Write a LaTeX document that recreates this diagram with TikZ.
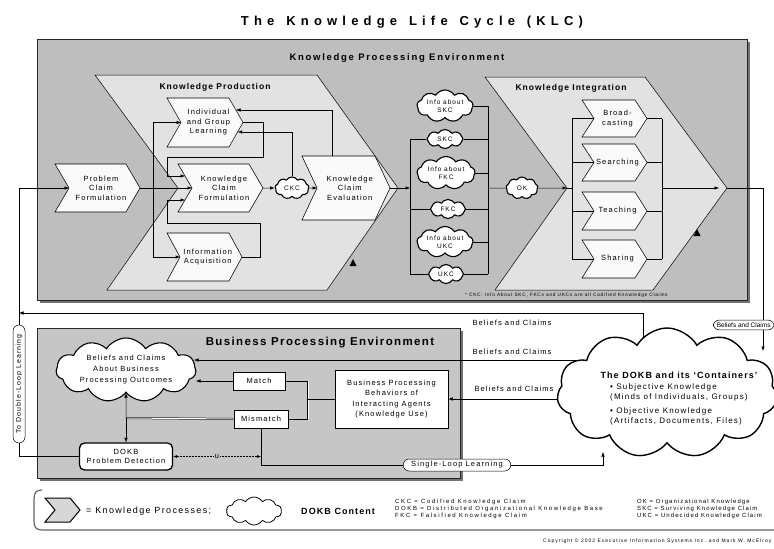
\documentclass[tikz,border=0pt]{standalone}
\usepackage{fontspec}
\setmainfont{Liberation Sans}
\newfontfamily\spacedfont[LetterSpace=15]{Liberation Sans}
\newfontfamily\headfont[LetterSpace=12]{Liberation Sans}
\newfontfamily\envfont[LetterSpace=18]{Liberation Sans}
\newfontfamily\widefont[LetterSpace=27]{Liberation Sans}
\newfontfamily\deffont[LetterSpace=18]{Liberation Sans}
\newfontfamily\smallwidefont[LetterSpace=20]{Liberation Sans}
\newfontfamily\titlefont[LetterSpace=40]{Liberation Sans}
\usetikzlibrary{shapes.symbols,arrows.meta}

\definecolor{envgray}{RGB}{190,190,190}
\definecolor{bpegray}{RGB}{198,198,198}
\definecolor{procgray}{RGB}{226,226,226}
\definecolor{chevfill}{RGB}{250,250,250}
\definecolor{shadowgray}{RGB}{115,115,115}
\definecolor{legendgray}{RGB}{215,215,215}

\tikzset{
  envbox/.style={draw=black!85, line width=0.9pt, fill=envgray},
  bpebox/.style={draw=black!85, line width=0.9pt, fill=bpegray},
  shadowbox/.style={fill=shadowgray, draw=none},
  bigproc/.style={draw=black, line width=0.5pt, fill=procgray},
  proc/.style={draw=black, line width=0.55pt, fill=chevfill},
  proctext/.style={font=\spacedfont\fontsize{7.5}{9.5}\selectfont, align=center, inner sep=0pt},
  headtext/.style={font=\headfont\bfseries\fontsize{8.5}{10}\selectfont, inner sep=0pt},
  kcloud/.style={cloud, cloud puffs=9, cloud puff arc=115, cloud ignores aspect,
    draw=black, line width=1.1pt, fill=white, inner sep=0pt, align=center,
    font=\spacedfont\fontsize{6.5}{7.5}\selectfont},
  flow/.style={draw=black, line width=0.5pt},
  arr/.style={flow, -{Latex[length=4.5pt,width=3.5pt]}},
  plainbox/.style={draw=black, line width=0.6pt, fill=white, align=center, inner sep=1pt,
    font=\spacedfont\fontsize{7.5}{10.5}\selectfont},
  pill/.style={draw=black, line width=0.5pt, fill=white, rounded corners=6pt,
    inner xsep=8pt, inner ysep=2.5pt, font=\spacedfont\fontsize{7.5}{9}\selectfont},
  lbl/.style={font=\spacedfont\fontsize{7.5}{9}\selectfont, inner sep=0pt},
  deftext/.style={font=\widefont\fontsize{6}{7}\selectfont, align=left, inner sep=0pt},
  legendproc/.style={draw=black, line width=1pt, fill=legendgray},
}

% chevron process: name, x1, y1, x2, y2, notch depth, label
\newcommand\chevronbox[7]{%
  \path[proc] (#2,#3) -- ({#4-#6},#3) -- (#4,{(#3+#5)/2}) -- ({#4-#6},#5)
    -- (#2,#5) -- ({#2+#6},{(#3+#5)/2}) -- cycle;
  \coordinate (#1-tip) at (#4,{(#3+#5)/2});
  \coordinate (#1-notch) at ({#2+#6},{(#3+#5)/2});
  \node[proctext] (#1) at ({(#2+#4)/2+#6/4},{(#3+#5)/2}) {#7};
}

\begin{document}
\begin{tikzpicture}[x=1pt,y=-1pt]
\useasboundingbox[fill=white] (0,0) rectangle (774,549);

% ---------- title ----------
\node[font=\titlefont\bfseries\fontsize{13}{15}\selectfont, inner sep=0pt] (title) at (412,22)
  {The\hspace{3pt} Knowledge\hspace{3pt} Life\hspace{3pt} Cycle\hspace{3pt} (KLC)};

% ---------- knowledge processing environment ----------
\fill[shadowbox] (40,42) rectangle (750,303);
\path[envbox] (37,39) rectangle (747,300);
\node[font=\envfont\bfseries\fontsize{9.5}{11}\selectfont, inner sep=0pt] (kpe) at (397,58)
  {Knowledge Processing Environment};

% knowledge production
\path[bigproc] (95,75) -- (317,75) -- (398,188) -- (327,290) -- (107,290) -- (178,188) -- cycle;
\node[headtext] (kplabel) at (215,87) {Knowledge Production};

% knowledge integration
\path[bigproc] (485,77) -- (645,77) -- (727,188) -- (653,290) -- (495,290) -- (567,188) -- cycle;
\coordinate (ki-tip) at (727,188);
\coordinate (ki-notch) at (567,188);
\node[headtext] (kilabel) at (571,88) {Knowledge Integration};

% flow markers on the outer process edges
\fill (353,259) -- (349.5,266) -- (356.5,266) -- cycle;
\fill (697,229) -- (693.5,236) -- (700.5,236) -- cycle;

\chevronbox{pcf}{55}{164}{140}{212}{14}{Problem\\Claim\\Formulation}
\chevronbox{igl}{167}{98}{243}{147}{14}{Individual\\and Group\\Learning}
\chevronbox{kcf}{178}{164}{263}{212}{14}{Knowledge\\Claim\\Formulation}
\chevronbox{ia}{167}{233}{242}{281}{13}{Information\\Acquisition}
\chevronbox{kce}{302}{156}{390}{220}{15}{Knowledge\\Claim\\Evaluation}
\chevronbox{bc}{582}{100}{647}{137}{12}{Broad-\\casting}
\chevronbox{se}{582}{144}{647}{181}{12}{Searching}
\chevronbox{te}{582}{192}{647}{230}{12}{Teaching}
\chevronbox{sh}{582}{240}{647}{278}{12}{Sharing}

% production flows
\coordinate (dl-top) at (19,188);
\coordinate (dl-mid) at (19,313);
\coordinate (dl-bot) at (19,456.5);
\coordinate (dist-top) at (153,122.5);
\coordinate (dist-bot) at (153,257);
\coordinate (kcf-in1) at (185,176);
\coordinate (kcf-in2) at (185,200);
\coordinate (igl-in1) at (236,110);
\coordinate (igl-in2) at (237.6,132);
\coordinate (kce-top) at (332,156);

\draw[arr] (dl-top) -- (pcf-notch);
\draw[arr] (pcf-tip) -- (kcf-notch);
\draw[flow] (dist-top) -- (dist-bot);
\draw[arr] (dist-top) -- (igl-notch);
\draw[arr] (dist-bot) -- (ia-notch);
\draw[arr] (igl-tip) -- ++(20,0) -- ++(0,34.5) -| (167,176) -- (kcf-in1);
\draw[arr] (ia-tip) -- ++(18,0) -- ++(0,-34) -| (167,200) -- (kcf-in2);

\node[kcloud, minimum width=34, minimum height=22] (ckc) at (292,188) {CKC};
\draw[arr] (kcf-tip) -- (ckc.west);
\draw[arr] (ckc.east) -- (kce-notch);
\draw[arr] (kce-top) |- (igl-in1);
\draw[arr] (ckc.north) |- (igl-in2);

% knowledge claims column
\node[kcloud, minimum width=56, minimum height=32] (c1) at (445,106) {Info about\\SKC};
\node[kcloud, minimum width=36, minimum height=19, cloud puffs=8] (c2) at (445,139) {SKC};
\node[kcloud, minimum width=58, minimum height=33] (c3) at (446,173) {Info about\\FKC};
\node[kcloud, minimum width=35, minimum height=19, cloud puffs=8] (c4) at (448,209) {FKC};
\node[kcloud, minimum width=56, minimum height=31] (c5) at (445,242) {Info about\\UKC};
\node[kcloud, minimum width=35, minimum height=19, cloud puffs=8] (c6) at (446,274) {UKC};

\coordinate (colL-top) at (410,139);
\coordinate (colL-mid) at (410,188);
\coordinate (colL-bot) at (410,274);
\coordinate (colR-top) at (488,106);
\coordinate (colR-mid) at (488,188);
\coordinate (colR-bot) at (488,274);
\draw[arr] (kce-tip) -- (colL-mid);
\draw[flow] (colL-top) -- (colL-bot);
\draw[flow] (colL-top) -- (c2.west);
\draw[flow] (colL-top |- c4.west) -- (c4.west);
\draw[flow] (colL-bot) -- (c6.west);
\draw[flow] (colR-top) -- (colR-bot);
\foreach \c in {c1,c2,c3,c4,c5,c6} \draw[flow] (\c.east) -- (colR-top |- \c.east);

\node[kcloud, minimum width=32, minimum height=22] (ok) at (522,188) {OK};
\draw[flow] (colR-mid) -- (ok.west);
\draw[arr] (ok.east) -- (ki-notch);

% integration flows
\coordinate (kiL-top) at (572,118.5);
\coordinate (kiL-mid) at (572,188);
\coordinate (kiL-bot) at (572,259);
\coordinate (kiR-top) at (662,118.5);
\coordinate (kiR-mid) at (662,188);
\coordinate (kiR-bot) at (662,259);
\draw[flow] (ki-notch) -- (kiL-mid);
\draw[flow] (kiL-top) -- (kiL-bot);
\draw[flow] (kiR-top) -- (kiR-bot);
\foreach \c in {bc,se,te,sh} {
  \draw[flow] (kiL-top |- \c-notch) -- (\c-notch);
  \draw[flow] (\c-tip) -- (kiR-top |- \c-tip);
}
\draw[arr, shorten >=8pt] (kiR-mid) -- (ki-tip);

\node[lbl, anchor=west, font=\spacedfont\fontsize{4.8}{6}\selectfont] (cknote) at (465,295.5)
  {* CKC: Info About SKC, FKCs and UKCs are all Codified Knowledge Claims};

% ---------- business processing environment ----------
\fill[shadowbox] (40,331) rectangle (463,481);
\path[bpebox] (37,328) rectangle (460,478);
\node[font=\headfont\bfseries\fontsize{11.5}{13}\selectfont, inner sep=0pt] (bpelabel) at (320,343)
  {Business Processing Environment};

\node[kcloud, cloud puffs=11, minimum width=140, minimum height=64,
  font=\spacedfont\fontsize{7.5}{11}\selectfont] (bpcloud) at (126,370)
  {Beliefs and Claims\\About Business\\Processing Outcomes};
\node[plainbox, minimum width=52, minimum height=18] (match) at (259,381) {Match};
\node[plainbox, minimum width=54, minimum height=18] (mismatch) at (261,419) {Mismatch};
\node[plainbox, minimum width=113, minimum height=58] (behav) at (391.5,399)
  {Business Processing\\Behaviors of\\Interacting Agents\\(Knowledge Use)};
\node[plainbox, rounded corners=5pt, line width=1.3pt, minimum width=93, minimum height=27,
  font=\spacedfont\fontsize{7.5}{9}\selectfont] (dokbpd) at (126,456.5) {DOKB\\Problem Detection};

\coordinate (bpc-in) at (196,381);
\coordinate (bpc-in2) at (194,360);
\coordinate (mm-j) at (126,418);
\coordinate (br-top) at (308,381);
\coordinate (br-mid) at (308,399);
\coordinate (br-bot) at (308,419);

\draw[arr] (match.west) -- (bpc-in);
\draw[flow, double, double distance=1pt] (mismatch.west) -- (mm-j);
\draw[arr] (mm-j) -- (bpcloud.south);
\draw[arr] (mm-j) -- (dokbpd.north);
\draw[flow] (match.east) -- (br-top);
\draw[flow] (mismatch.east) -- (br-bot);
\draw[flow, double, double distance=1pt] (br-top) -- (br-bot);
\draw[flow] (br-mid) -- (behav.west);

\draw[flow, densely dotted, {Latex[length=4pt,width=3pt]}-{Latex[length=4pt,width=3pt]}]
  (dokbpd.east) -- (mismatch.south |- dokbpd.east)
  node[midway, fill=bpegray, inner sep=1pt, font=\spacedfont\fontsize{7.5}{9}\selectfont] (ulabel) {u};

% double-loop learning
\draw[flow] (dokbpd.west) -- (dl-bot) -- (dl-top);
\node[pill, rotate=90, minimum width=118, minimum height=12, inner xsep=3pt, inner ysep=1pt,
  font=\spacedfont\fontsize{7}{8}\selectfont] (dlpill) at (19,384) {To Double-Loop Learning};

% beliefs and claims leaving the DOKB
\coordinate (bc1-start) at (643,345);
\coordinate (bc2-start) at (600,360);
\coordinate (bc3-start) at (600,399);
\draw[arr] (bc1-start) |- (dl-mid);
\draw[arr] (bc2-start) -- (bpc-in2);
\draw[arr] (bc3-start) -- (behav.east);
\node[lbl] (bclabel1) at (512,323) {Beliefs and Claims};
\node[lbl] (bclabel2) at (512,352) {Beliefs and Claims};
\node[lbl] (bclabel3) at (514,389) {Beliefs and Claims};

% ---------- the DOKB ----------
\node[kcloud, cloud puffs=11, cloud puff arc=120, minimum width=220, minimum height=130,
  line width=1.4pt] (dokb) at (667,393) {};
\node[font=\headfont\bfseries\fontsize{9}{11}\selectfont, inner sep=0pt] (dokbtitle) at (679,375)
  {The DOKB and its ‘Containers’};
\node[font=\spacedfont\fontsize{8}{10}\selectfont, align=left, anchor=north west, inner sep=0pt]
  (dokbtext) at (610,383)
  {• Subjective Knowledge\\(Minds of Individuals, Groups)\\[4pt]• Objective Knowledge\\(Artifacts, Documents, Files)};

% flows into the DOKB
\coordinate (loop-r) at (763,188);
\coordinate (dokb-in1) at (603,452);
\coordinate (dokb-in2) at (763,351);
\draw[arr] (ki-tip) -- (loop-r) -- (dokb-in2);
\node[pill, anchor=west, inner xsep=3.5pt, inner ysep=2.5pt, font=\fontsize{6.5}{8}\selectfont] (bcpill)
  at (713,325) {Beliefs and Claims};

\node[pill] (slpill) at (457,465) {Single-Loop Learning};
\draw[flow] (mismatch.south) |- (slpill.west);
\draw[arr] (slpill.east) -| (dokb-in1);

% ---------- legend ----------
\draw[line width=1.2pt, draw=black!60] (42,490) .. controls (36,490) and (34,493) .. (34,499)
  -- (34,521) .. controls (34,527) and (36,530) .. (42,530) -- (774,530);
\path[legendproc] (45,498) -- (70,498) -- (80,510) -- (70,522) -- (45,522) -- (55,510) -- cycle;
\node[lbl, anchor=west, font=\spacedfont\fontsize{9}{11}\selectfont] (legproc) at (86,511)
  {= Knowledge Processes;};
\node[cloud, cloud puffs=10, cloud puff arc=115, cloud ignores aspect, draw=black, line width=0.8pt,
  fill=white, minimum width=55, minimum height=28, inner sep=0pt] (legcloud) at (254,511) {};
\node[lbl, anchor=west, font=\headfont\bfseries\fontsize{9}{11}\selectfont] (legdokb) at (301,511)
  {DOKB Content};
\node[deftext, anchor=north west] (defs1) at (395,499)
  {CKC = Codified Knowledge Claim\\DOKB = Distributed Organizational Knowledge Base\\FKC = Falsified Knowledge Claim};
\node[deftext, anchor=north west, font=\deffont\fontsize{6}{7}\selectfont] (defs2) at (637,499)
  {OK = Organizational Knowledge\\SKC = Surviving Knowledge Claim\\UKC = Undecided Knowledge Claim};
\node[lbl, anchor=west, font=\smallwidefont\fontsize{5}{6}\selectfont] (copyright) at (543,541)
  {Copyright © 2002 Executive Information Systems Inc. and Mark W. McElroy};
\end{tikzpicture}
\end{document}
